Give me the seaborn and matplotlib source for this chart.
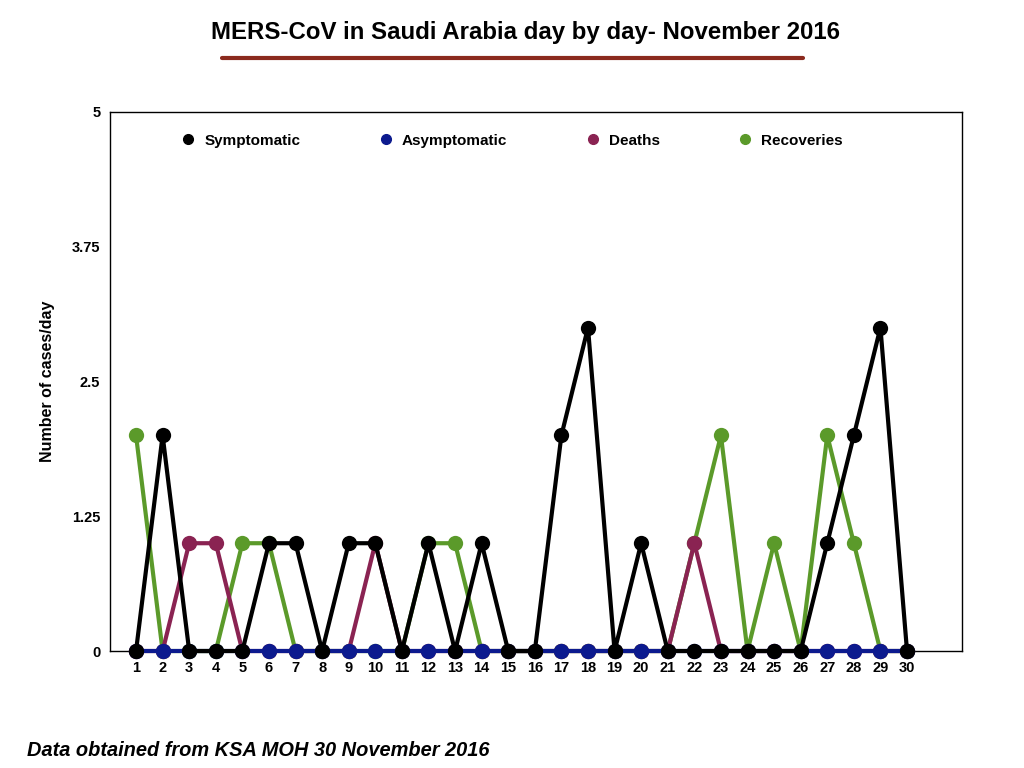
import matplotlib
matplotlib.use("Agg")
import matplotlib.pyplot as plt
import numpy as np
import pandas as pd
import seaborn as sns
from matplotlib.lines import Line2D

days = list(range(1, 31))
symptomatic = [0, 2, 0, 0, 0, 1, 1, 0, 1, 1, 0, 1, 0, 1, 0, 0, 2, 3, 0, 1, 0, 0, 0, 0, 0, 0, 1, 2, 3, 0]
asymptomatic = [0] * 30
deaths = [0, 0, 1, 1, 0, 0, 0, 0, 0, 1, 0, 0, 0, 0, 0, 0, 0, 0, 0, 0, 0, 1, 0, 0, 0, 0, 0, 0, 0, 0]
recoveries = [2, 0, 0, 0, 1, 1, 0, 0, 0, 0, 0, 1, 1, 0, 0, 0, 0, 0, 0, 0, 0, 1, 2, 0, 1, 0, 2, 1, 0, 0]
y_ticks = [0, 1.25, 2.5, 3.75, 5]
y_tick_labels = ["0", "1.25", "2.5", "3.75", "5"]

sns.set_theme(style="white", rc={"text.color": "black", "axes.labelcolor": "black",
                                 "xtick.color": "black", "ytick.color": "black"})
plt.rcParams['font.family'] = ['Liberation Sans', 'DejaVu Sans']

colors = {
    "Symptomatic": "#000000",
    "Asymptomatic": "#0c1a8e",
    "Deaths": "#8a2352",
    "Recoveries": "#5b9a2a",
}

fig = plt.figure(figsize=(10.24, 7.68), dpi=100)
ax = fig.add_axes([0.1074, 0.1523, 0.8321, 0.7019])

# draw order: recoveries at the bottom, symptomatic on top
series = [("Recoveries", recoveries, 2), ("Deaths", deaths, 3),
          ("Asymptomatic", asymptomatic, 4), ("Symptomatic", symptomatic, 5)]
for name, vals, z in series:
    df = pd.DataFrame({"day": days, "value": vals})
    sns.lineplot(data=df, x="day", y="value", ax=ax, color=colors[name],
                 linewidth=3, marker="o", markersize=11, markeredgewidth=0,
                 zorder=z, clip_on=False)

ax.set_xlim(0.02, 32.07)
ax.set_ylim(0, 5)
ax.set_xticks(days)
ax.set_xticklabels([str(d) for d in days], fontweight="bold", fontsize=10.5)
ax.set_yticks(y_ticks)
ax.set_yticklabels(y_tick_labels, fontweight="bold", fontsize=10.5)
ax.tick_params(axis="both", length=0, pad=7)
ax.set_xlabel("")
ax.set_ylabel("Number of cases/day", fontweight="bold", fontsize=11.5, labelpad=12)
for s in ax.spines.values():
    s.set_color("black")
    s.set_linewidth(1)

handles = [Line2D([], [], color=colors[n], marker="o", linestyle="none", markersize=7)
           for n in colors]
leg = ax.legend(handles, list(colors), loc="upper center", bbox_to_anchor=(0.467, 0.985),
                ncol=4, frameon=False, columnspacing=4.6, handletextpad=0.05,
                prop={"weight": "bold", "size": 11})

fig.text(0.513, 0.958, "MERS-CoV in Saudi Arabia day by day- November 2016",
         ha="center", va="center", fontsize=17.3, fontweight="bold")
fig.add_artist(Line2D([0.217, 0.784], [0.9245, 0.9245], color="#8b2a1e", linewidth=3,
                      transform=fig.transFigure))
fig.text(0.026, 0.023, "Data obtained from KSA MOH 30 November 2016",
         ha="left", va="center", fontsize=14.4, fontweight="bold", fontstyle="italic")

fig.savefig("out.png", dpi=100)
